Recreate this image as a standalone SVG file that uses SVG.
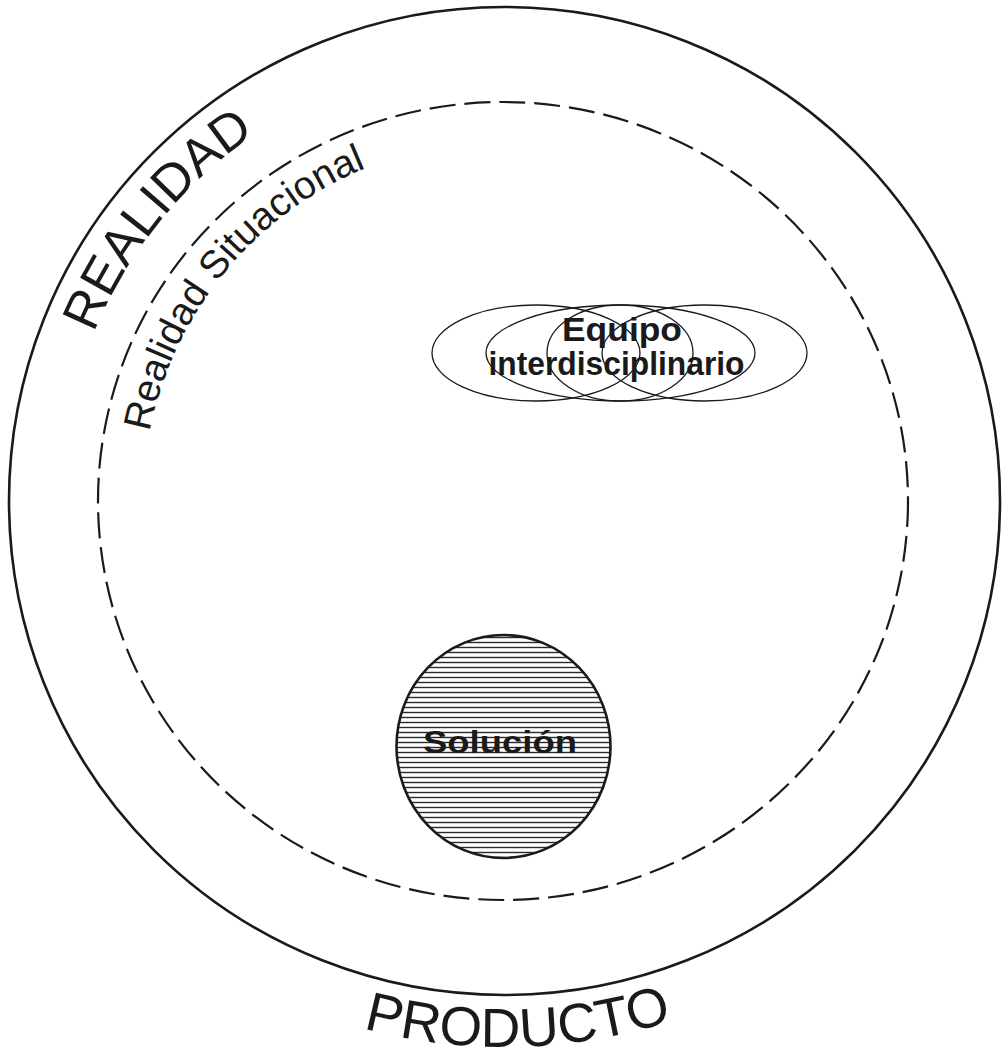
<svg xmlns="http://www.w3.org/2000/svg" xmlns:xlink="http://www.w3.org/1999/xlink" width="1005" height="1061" viewBox="0 0 1005 1061">
<style>
.lbl{font-family:"Liberation Sans",Arial,Helvetica,sans-serif;fill:#1a1a1a}
.big{font-size:52px}
.prod{font-size:55px}
.mid{font-size:39px}
.bold{font-weight:bold}
.thin{fill:none;stroke:#1a1a1a;stroke-width:1.3}
</style>
<defs>
<pattern id="hatch" patternUnits="userSpaceOnUse" width="10" height="5">
<rect width="10" height="5" fill="#fff"/>
<line x1="0" y1="2.5" x2="10" y2="2.5" stroke="#2a2a2a" stroke-width="1.4"/>
</pattern>
<path id="arcRealidad" d="M 61.1 508.7 A 444 444 0 0 1 420.3 65.2"/>
<path id="arcSituacional" d="M 143 505 A 360 360 0 0 1 436.7 147"/>
<path id="arcProducto" d="M 164.4 927.7 A 546 546 0 0 0 866 910.7"/>
</defs>
<rect width="1005" height="1061" fill="#fff"/>
<g id="realidad">
<ellipse cx="504.5" cy="501" rx="495.5" ry="494" fill="none" stroke="#1a1a1a" stroke-width="2.6"/>
<text class="lbl big"><textPath xlink:href="#arcRealidad" href="#arcRealidad" startOffset="50%" text-anchor="middle">REALIDAD</textPath></text>
<text class="lbl prod"><textPath xlink:href="#arcProducto" href="#arcProducto" startOffset="50%" text-anchor="middle">PRODUCTO</textPath></text>
</g>
<g id="realidad-situacional">
<ellipse cx="503" cy="501" rx="405" ry="399" fill="none" stroke="#1a1a1a" stroke-width="2.2" stroke-dasharray="26 9"/>
<text class="lbl mid"><textPath xlink:href="#arcSituacional" href="#arcSituacional" startOffset="50%" text-anchor="middle">Realidad Situacional</textPath></text>
</g>
<g id="equipo">
<ellipse class="thin" cx="536" cy="353" rx="104" ry="48"/>
<ellipse class="thin" cx="620.5" cy="353" rx="134.5" ry="48"/>
<ellipse class="thin" cx="620" cy="353" rx="73" ry="48"/>
<ellipse class="thin" cx="704.5" cy="353" rx="102.5" ry="48"/>
<text class="lbl bold" x="622" y="341" font-size="33" text-anchor="middle" textLength="120" lengthAdjust="spacingAndGlyphs">Equipo</text>
<text class="lbl bold" x="616.5" y="375" font-size="33" text-anchor="middle" textLength="256" lengthAdjust="spacingAndGlyphs">interdisciplinario</text>
</g>
<g id="solucion">
<ellipse cx="503.5" cy="746.5" rx="107" ry="111.5" fill="url(#hatch)" stroke="#1a1a1a" stroke-width="2.6"/>
<text class="lbl bold" x="500" y="753" font-size="31" text-anchor="middle" textLength="154" lengthAdjust="spacingAndGlyphs">Solución</text>
</g>
<g id="connectors"/>
</svg>
